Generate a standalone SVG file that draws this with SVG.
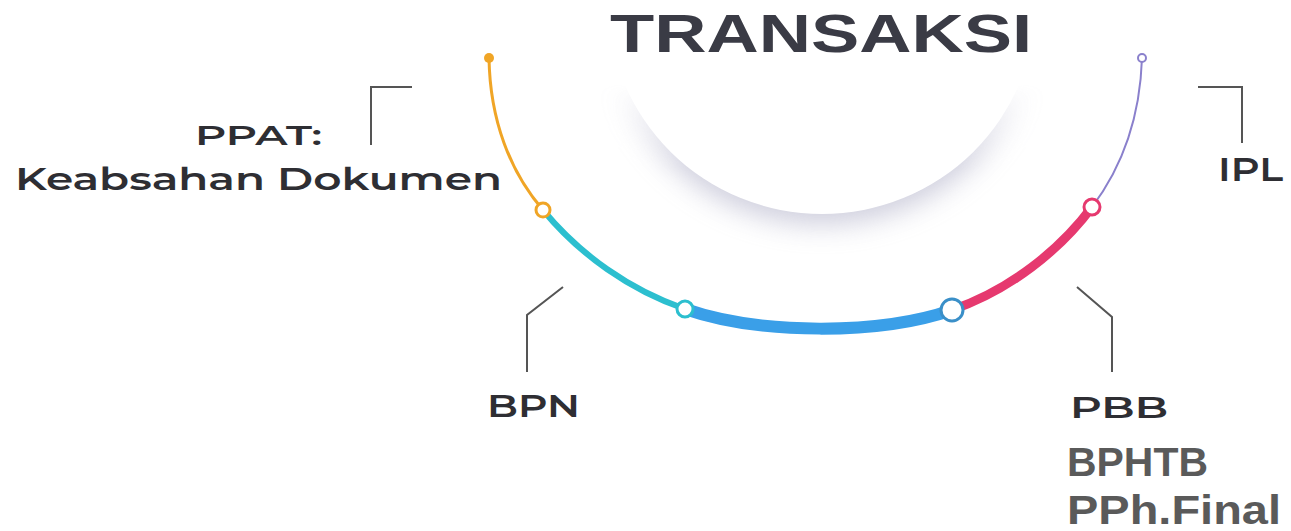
<svg xmlns="http://www.w3.org/2000/svg" width="1291" height="531" viewBox="0 0 1291 531">
<defs>
<filter id="blur" x="-30%" y="-30%" width="160%" height="170%">
<feGaussianBlur stdDeviation="14"/>
</filter>
<linearGradient id="fade" x1="0" y1="0" x2="0" y2="1" gradientUnits="objectBoundingBox">
<stop offset="0" stop-color="#000"/>
<stop offset="0.3" stop-color="#000"/>
<stop offset="0.6" stop-color="#fff"/>
<stop offset="1" stop-color="#fff"/>
</linearGradient>
<mask id="m" maskUnits="userSpaceOnUse" x="0" y="0" width="1291" height="531">
<rect x="560" y="0" width="530" height="280" fill="url(#fade)"/>
</mask>
<style>
.lbl{font-family:"Montserrat","Liberation Sans",Arial,sans-serif;font-weight:600;fill:#2e2e33}
.lead{fill:none;stroke:#555;stroke-width:2}
.big{font-family:"Liberation Sans",Arial,sans-serif;font-weight:bold;fill:#5a5a5a;font-size:40px}
.seg{fill:none;stroke-linecap:round}
.nd{fill:#fff}
</style>
</defs>
<rect width="1291" height="531" fill="#fff"/>
<g id="disc">
<ellipse cx="822" cy="12" rx="214" ry="212" fill="#a4a4c0" opacity="0.55" filter="url(#blur)" mask="url(#m)"/>
<ellipse cx="822" cy="2" rx="214" ry="212" fill="#fff"/>
</g>
<g id="title">
<text x="610" y="52" font-family="Liberation Sans, Arial, sans-serif" font-weight="bold" font-size="53" fill="#3a3b45" textLength="422" lengthAdjust="spacingAndGlyphs">TRANSAKSI</text>
</g>
<g id="connectors">
<path class="seg" d="M489,58 C490,120 510,172 543,210" stroke="#f0a526" stroke-width="3"/>
<path class="seg" d="M543,210 C580,255 630,290 685,309" stroke="#2cbfcf" stroke-width="6"/>
<path class="seg" d="M685,309 C760,335 880,335 952,310" stroke="#3a9fe8" stroke-width="12"/>
<path class="seg" d="M952,310 C1010,290 1060,250 1092,207" stroke="#e6396f" stroke-width="9"/>
<path class="seg" d="M1092,207 C1120,170 1140,120 1142,58" stroke="#8a80cc" stroke-width="2"/>
<polyline class="lead" points="412,87 371,87 371,145"/>
<polyline class="lead" points="1198,87 1242,87 1242,143"/>
<polyline class="lead" points="563,287 527,315 527,372"/>
<polyline class="lead" points="1077,287 1112,317 1112,372"/>
</g>
<g id="node-start"><circle cx="489" cy="58" r="5" fill="#f0a526"/></g>
<g id="node-ppat">
<circle class="nd" cx="543" cy="210" r="7" stroke="#f0a526" stroke-width="3"/>
<text class="lbl" x="195" y="145" font-size="28" textLength="127" lengthAdjust="spacingAndGlyphs">PPAT:</text>
<text class="lbl" x="15" y="190" font-size="31" textLength="487" lengthAdjust="spacingAndGlyphs">Keabsahan Dokumen</text>
</g>
<g id="node-bpn">
<circle class="nd" cx="685" cy="309" r="8" stroke="#2cbfcf" stroke-width="3"/>
<text class="lbl" x="487" y="417" font-size="32" textLength="93" lengthAdjust="spacingAndGlyphs">BPN</text>
</g>
<g id="node-pbb">
<circle class="nd" cx="952" cy="310" r="11" stroke="#3a8fc8" stroke-width="3"/>
<text class="lbl" x="1070" y="418" font-size="30" textLength="98" lengthAdjust="spacingAndGlyphs">PBB</text>
<text class="big" x="1067" y="476" textLength="141" lengthAdjust="spacingAndGlyphs">BPHTB</text>
<text class="big" x="1067" y="524" textLength="214" lengthAdjust="spacingAndGlyphs">PPh.Final</text>
</g>
<g id="node-ipl">
<circle class="nd" cx="1092" cy="207" r="8" stroke="#e6396f" stroke-width="3"/>
<text class="lbl" x="1218" y="181" font-size="34" textLength="65" lengthAdjust="spacingAndGlyphs">IPL</text>
</g>
<g id="node-end"><circle class="nd" cx="1142" cy="58" r="4" stroke="#8a80cc" stroke-width="2"/></g>
</svg>
